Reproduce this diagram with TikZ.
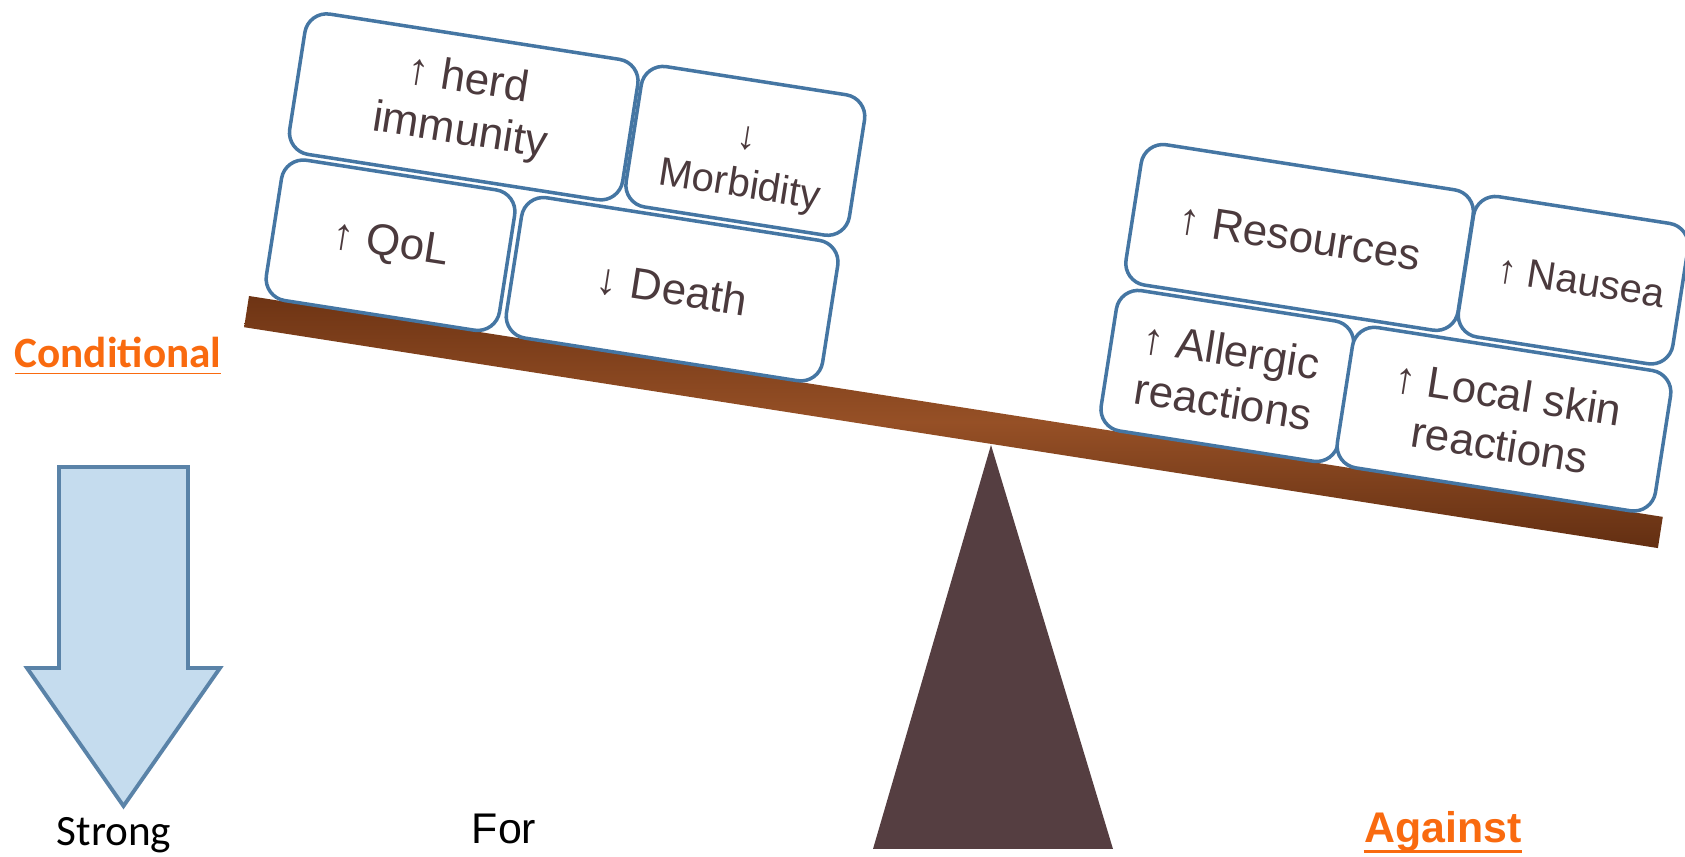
\documentclass[tikz,border=0pt]{standalone}
\usepackage{fontspec}
\setmainfont{Liberation Sans}
\newfontfamily\calibri{Carlito}

\definecolor{boxblue}{HTML}{4576A3}
\definecolor{boxtext}{HTML}{4B3A3D}
\definecolor{fulcrum}{HTML}{553E41}
\definecolor{woodmid}{HTML}{965026}
\definecolor{wooddark}{HTML}{6E3414}
\definecolor{labelorange}{HTML}{F96A0F}
\definecolor{arrowfill}{HTML}{C5DCEE}
\definecolor{arrowline}{HTML}{5A83A8}

\tikzset{
  weight/.style={draw=boxblue, line width=1pt, fill=white, rounded corners=0.22cm,
    minimum height=1.42cm, inner sep=0pt, align=center, text=boxtext,
    font=\fontsize{12.5}{14.8}\selectfont, transform shape},
  small/.style={font=\fontsize{11.4}{13.8}\selectfont},
  side/.style={anchor=base, inner sep=0pt, font=\fontsize{12.2}{14}\selectfont}
}

\begin{document}
\begin{tikzpicture}
  \useasboundingbox (0,0) rectangle (16.85,8.57);
  % fulcrum
  \fill[fulcrum] (9.91,4.12) -- (11.13,0.08) -- (8.73,0.08) -- cycle;
  % beam with the weights on it
  \begin{scope}[shift={(2.49,5.61)}, rotate=-8.88]
    \shade[top color=wooddark, bottom color=wooddark!90!black, middle color=woodmid]
      (0,0) rectangle (14.31,-0.316);
    \draw
      (1.32,0.72) node[weight, minimum width=2.36cm] (qol) {↑ QoL}
      (4.17,0.72) node[weight, minimum width=3.20cm] (death) {↓ Death}
      (1.83,2.20) node[weight, minimum width=3.37cm] (herd) {↑ herd\\immunity}
      (4.68,2.20) node[weight, small, minimum width=2.26cm] (morbidity) {\rule{0pt}{15pt}↓\\Morbidity}
      (9.79,0.72) node[weight, minimum width=2.40cm] (allergic) {↑ Allergic\\reactions}
      (12.59,0.72) node[weight, minimum width=3.22cm] (skin) {↑ Local skin\\reactions}
      (10.29,2.20) node[weight, minimum width=3.36cm] (resources) {↑ Resources}
      (13.06,2.20) node[weight, small, minimum width=2.17cm] (nausea) {\hspace*{0.15cm}↑ Nausea};
  \end{scope}
  % strength arrow
  \draw[arrowline, fill=arrowfill, line width=1.1pt]
    (0.59,3.90) -- (1.88,3.90) -- (1.88,1.89) -- (2.20,1.89) -- (1.235,0.51)
    -- (0.27,1.89) -- (0.59,1.89) -- cycle;
  % labels
  \node[side, text=labelorange, font=\calibri\bfseries\fontsize{12.3}{14}\selectfont] (conditional) at (1.18,4.89) {\underline{Conditional}};
  \node[side, font=\calibri\fontsize{12.3}{14}\selectfont] (strong) at (1.14,0.11) {Strong};
  \node[side] (for) at (5.04,0.13) {For};
  \node[side, text=labelorange, font=\bfseries\fontsize{12.2}{14}\selectfont] (against) at (14.43,0.14) {Against};
  \draw[labelorange, line width=0.8pt] ([yshift=-0.085cm]against.base west) -- ([yshift=-0.085cm]against.base east);
\end{tikzpicture}
\end{document}
